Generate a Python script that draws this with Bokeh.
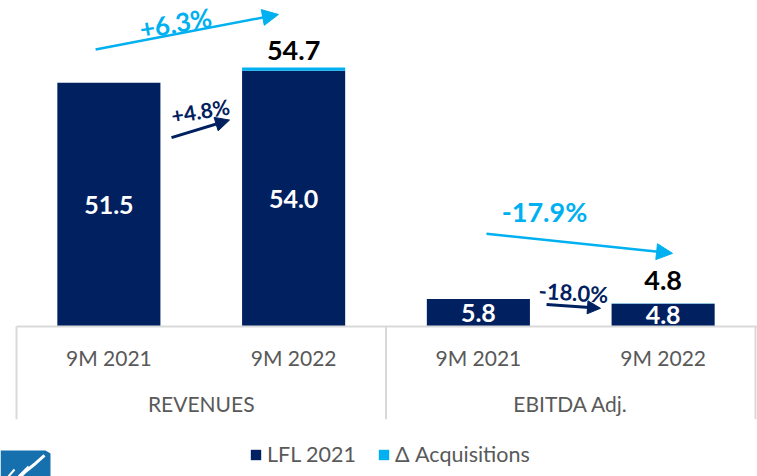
from bokeh.plotting import figure
from bokeh.models import Range1d, Arrow, NormalHead, Legend, LegendItem, Grid
from bokeh.core.properties import value
from bokeh.embed import file_html
from bokeh.resources import INLINE

# ---------------- data ----------------
groups = ["REVENUES", "EBITDA Adj."]
periods = ["9M 2021", "9M 2022"]
lfl = [51.5, 54.0, 5.8, 4.8]          # LFL 2021 part of each bar
acq = [0.0, 0.7, 0.0, 0.05]           # Δ Acquisitions part of each bar
lfl_labels = ["51.5", "54.0", "5.8", "4.8"]
total_labels = ["54.7", "4.8"]        # totals shown above the 9M 2022 bars
growth_total = ["+6.3%", "-17.9%"]    # total growth (cyan arrows)
growth_lfl = ["+4.8%", "-18.0%"]      # LFL growth (navy arrows)
legend_labels = ["LFL 2021", "Δ Acquisitions"]

# ---------------- style ----------------
NAVY = "#002060"
CYAN = "#00B0F0"
GRAY = "#595959"
RULE = "#D9D9D9"
FONT_NAME = "Lato"
FONT = value(FONT_NAME)

n_per = len(periods)
xs = [g * n_per + i + 0.5 for g in range(len(groups)) for i in range(n_per)]
tops = [a + b for a, b in zip(lfl, acq)]
cat_labels = [p for g in groups for p in periods]
n_cat = len(xs)

X0, X1 = -0.0866, 4.0108
p = figure(width=757, height=476, output_backend="svg", toolbar_location=None,
           x_range=Range1d(X0, X1), y_range=Range1d(-31.68, 68.85),
           x_axis_location=None, y_axis_location=None, min_border=0,
           outline_line_color=None, background_fill_color="white")
for r in list(p.center):
    if isinstance(r, Grid):
        r.visible = False

# bars
r_lfl = p.vbar(x=xs, bottom=0, top=lfl, width=0.558, fill_color=NAVY, line_color=None)
r_acq = p.vbar(x=xs, bottom=lfl, top=tops, width=0.558, fill_color=CYAN, line_color=None)

# category axis box (drawn by hand)
p.segment(x0=[0], y0=[0], x1=[X1], y1=[0], line_color=RULE, line_width=2)
bounds = [g * n_per for g in range(len(groups) + 1)]
p.segment(x0=bounds, y0=[0] * len(bounds), x1=bounds, y1=[-19.6] * len(bounds),
          line_color=RULE, line_width=2)
p.text(x=xs, y=[-6.55] * n_cat, text=cat_labels, text_font=FONT, text_font_size="21px",
       text_color=GRAY, text_align="center", text_baseline="middle")
gx = [g * n_per + n_per / 2 for g in range(len(groups))]
p.text(x=gx, y=[-16.3] * len(groups), text=groups, text_font=FONT, text_font_size="21px",
       text_color=GRAY, text_align="center", text_baseline="middle")

# value labels inside bars
p.text(x=xs, y=[v / 2 for v in lfl], text=lfl_labels, text_font=FONT, text_font_size="25px",
       text_font_style="bold", text_color="white", text_align="center", text_baseline="middle")

# total labels above the 2022 bars
last = [g * n_per + n_per - 1 for g in range(len(groups))]
p.text(x=[xs[i] for i in last], y=[tops[i] for i in last], text=total_labels,
       y_offset=[-17, -23], text_font=FONT, text_font_size="27px", text_font_style="bold",
       text_color="black", text_align="center", text_baseline="middle")

# growth arrows: offsets relative to bar centre / top (layout only)
arrow_layout = [
    # (from bar, to bar, dx0, dy0, dx1, dy1, colour, width, head, label, lx, ly, angle, size)
    (0, 1, -0.072, 7.0, -0.082, 11.2, CYAN, 2.5, 16, growth_total[0], 0.361, 12.6, 0.17, "26px"),
    (0, 1, 0.339, -11.6, -0.347, -11.1, NAVY, 3, 14, growth_lfl[0], 0.496, -5.9, 0.16, "21px"),
    (2, 3, 0.044, 13.8, 0.051, 10.6, CYAN, 2.5, 16, growth_total[1], 0.358, 18.5, 0.0, "27px"),
    (2, 3, 0.369, -1.15, -0.339, -1.0, NAVY, 3, 13, growth_lfl[1], 0.515, 1.4, -0.06, "22px"),
]
for (a, b, dx0, dy0, dx1, dy1, col, lw, hs, lab, lx, ly, ang, fs) in arrow_layout:
    p.add_layout(Arrow(x_start=xs[a] + dx0, y_start=tops[a] + dy0,
                       x_end=xs[b] + dx1, y_end=tops[b] + dy1,
                       line_color=col, line_width=lw,
                       end=NormalHead(size=hs, fill_color=col, line_color=col)))
    p.text(x=[xs[a] + lx], y=[tops[a] + ly], text=[lab], angle=ang, text_font=FONT,
           text_font_size=fs, text_font_style="bold", text_color=col,
           text_align="center", text_baseline="middle")

# legend
legend = Legend(items=[LegendItem(label=legend_labels[0], renderers=[r_lfl]),
                       LegendItem(label=legend_labels[1], renderers=[r_acq])],
                orientation="horizontal", location=(249, 9), border_line_color=None,
                background_fill_alpha=0, padding=0, margin=0, spacing=21,
                glyph_width=13, glyph_height=13, label_standoff=5,
                label_text_font=FONT_NAME, label_text_font_size="21.5px", label_text_color=GRAY)
p.add_layout(legend)

# logo fragment (bottom-left corner)
p.patch(x=[X0, 0.157, 0.184, 0.184, X0], y=[-26.19, -26.19, -26.82, -31.68, -31.68],
        fill_color="#1570AD", line_color=None)
p.line(x=[0.1516, 0.1028, 0.0487, 0.0217], y=[-27.24, -28.93, -30.62, -31.68],
       line_color="white", line_width=3)
p.line(x=[0.065, 0.0108], y=[-29.57, -31.68], line_color="white", line_width=2)
p.line(x=[-0.0108, -0.0433], y=[-30.2, -31.68], line_color="white", line_width=2)

open("out.html", "w").write(file_html(p, INLINE))
